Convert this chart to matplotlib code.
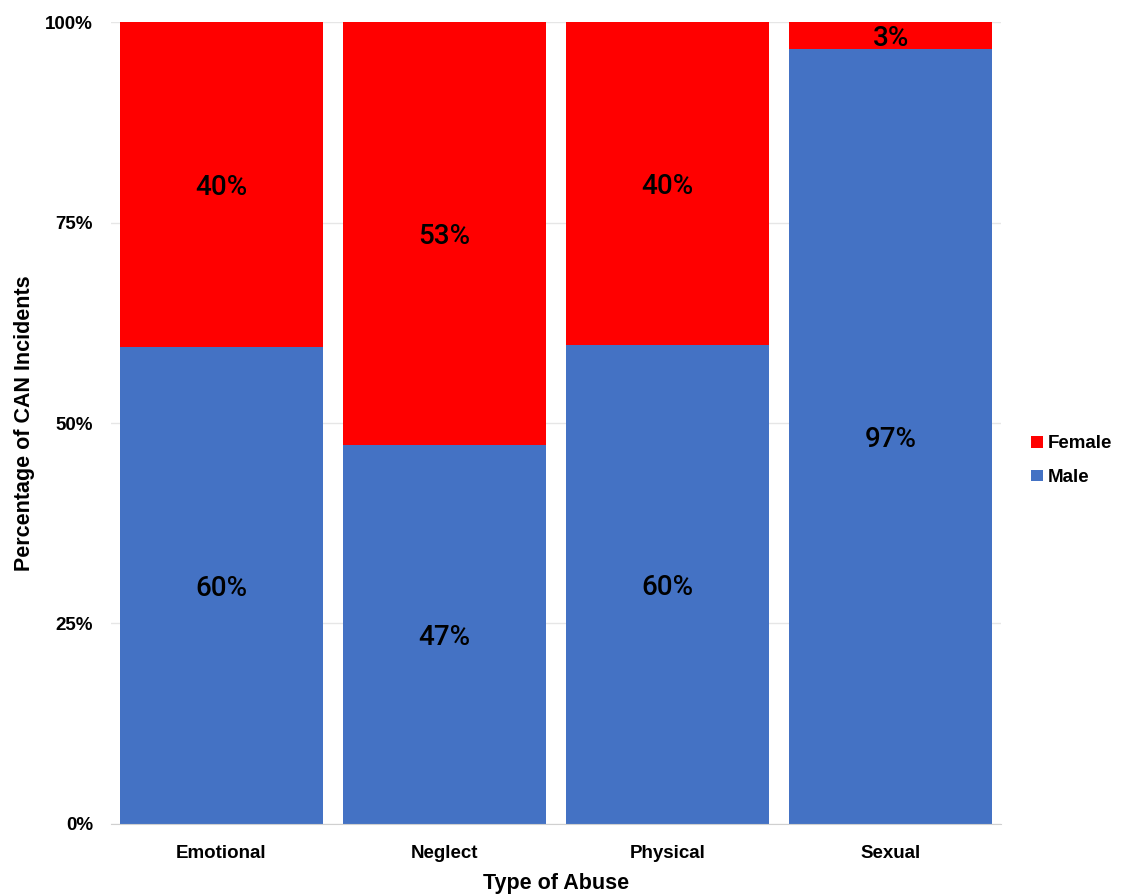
import numpy as np
import matplotlib.pyplot as plt
from matplotlib.patches import Patch

plt.rcParams['font.family'] = ['Liberation Sans', 'DejaVu Sans']

# DATA
categories = ['Emotional', 'Neglect', 'Physical', 'Sexual']
male = [59.5, 47.3, 59.7, 96.6]
female = [40.5, 52.7, 40.3, 3.4]
male_labels = ['60%', '47%', '60%', '97%']
female_labels = ['40%', '53%', '40%', '3%']
yticks = [0, 25, 50, 75, 100]
ytick_labels = ['0%', '25%', '50%', '75%', '100%']

blue = '#4472C4'
red = '#FF0000'

fig = plt.figure(figsize=(11.21, 8.96), dpi=100)
ax = fig.add_axes([0.099, 0.0804, 0.794, 0.895])

x = np.arange(len(categories))
ax.bar(x, male, width=0.91, color=blue, zorder=2)
ax.bar(x, female, bottom=male, width=0.91, color=red, zorder=2)

lab_font = dict(family=['Roboto', 'Liberation Sans'], weight='medium', size=20)
for i in range(len(categories)):
    ax.text(x[i], male[i] / 2 - 0.4, male_labels[i], ha='center', va='center',
            color='black', zorder=3, **lab_font)
    if female[i] > 10:
        ax.text(x[i], male[i] + female[i] / 2 - 0.4, female_labels[i], ha='center', va='center',
                color='black', zorder=3, **lab_font)
    else:
        ax.text(x[i], 97.9, female_labels[i], ha='center', va='center',
                color='black', zorder=3, **lab_font)

ax.set_xlim(-0.4955, 3.4955)
ax.set_ylim(0, 100)
ax.set_yticks(yticks)
ax.set_yticklabels(ytick_labels, fontsize=13.5, fontweight='bold')
ax.set_xticks(x)
ax.set_xticklabels(categories, fontsize=13.5, fontweight='bold')
ax.tick_params(axis='x', length=0, pad=15)
ax.tick_params(axis='y', length=0, pad=13)
ax.yaxis.grid(True, color='#E6E6E6', linewidth=1, zorder=0)

for s in ['top', 'right', 'left']:
    ax.spines[s].set_visible(False)
ax.spines['bottom'].set_color('#D0D0D0')
ax.spines['bottom'].set_zorder(3)

ax.set_xlabel('Type of Abuse', fontsize=15.5, fontweight='bold', labelpad=8)
ax.set_ylabel('Percentage of CAN Incidents', fontsize=15.5, fontweight='bold', labelpad=7)

handles = [Patch(facecolor=red, label='Female'), Patch(facecolor=blue, label='Male')]
leg = ax.legend(handles=handles, loc='center left', bbox_to_anchor=(1.015, 0.453),
                frameon=False, prop={'size': 13.5, 'weight': 'bold'},
                handlelength=0.6, handleheight=0.6, handletextpad=0.3, labelspacing=0.9)

fig.savefig('out.png', dpi=100)
